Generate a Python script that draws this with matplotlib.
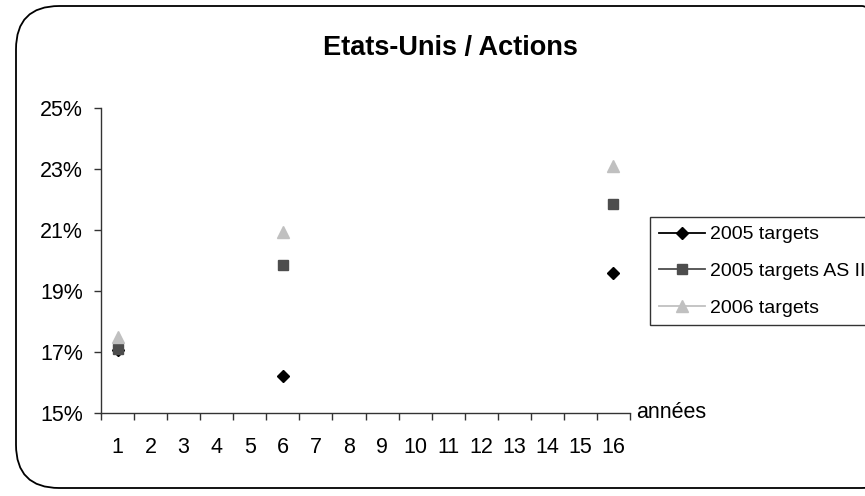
import numpy as np
import matplotlib
matplotlib.use("Agg")
import matplotlib.pyplot as plt
from matplotlib.patches import FancyBboxPatch

plt.rcParams['font.family'] = ['Liberation Sans', 'DejaVu Sans']

categories = [str(i) for i in range(1, 17)]
nan = np.nan
targets_2005 = [17.05, nan, nan, nan, nan, 16.2, nan, nan, nan, nan, nan, nan, nan, nan, nan, 19.6]
targets_2005_as2 = [17.1, nan, nan, nan, nan, 19.85, nan, nan, nan, nan, nan, nan, nan, nan, nan, 21.85]
targets_2006 = [17.5, nan, nan, nan, nan, 20.93, nan, nan, nan, nan, nan, nan, nan, nan, nan, 23.1]
series_names = ["2005 targets", "2005 targets AS II", "2006 targets"]
y_ticks = [15, 17, 19, 21, 23, 25]
title = "Etats-Unis / Actions"
x_axis_label = "années"

W, H = 865, 496
fig = plt.figure(figsize=(W / 100, H / 100), dpi=100)

# outer rounded frame (extends past right edge)
frame = FancyBboxPatch((16 / W, 8 / H), (W + 40 - 16) / W, (490 - 8) / H,
                       boxstyle="round,pad=0,rounding_size=0.05",
                       transform=fig.transFigure, fill=False, ec='black', lw=1.3,
                       mutation_aspect=W / H)
fig.add_artist(frame)

ax = fig.add_axes([101 / W, 1 - 413 / H, (630 - 101) / W, (413 - 108) / H])
x = np.arange(1, len(categories) + 1)

fs = 15.5
ax.plot(x, targets_2005, color='black', marker='D', markersize=6.5, lw=1.3,
        label=series_names[0])
ax.plot(x, targets_2005_as2, color='#4d4d4d', marker='s', markersize=7.5, lw=1.3,
        label=series_names[1])
ax.plot(x, targets_2006, color='#c0c0c0', marker='^', markersize=9, lw=1.3,
        label=series_names[2])

ax.set_xlim(0.5, len(categories) + 0.5)
ax.set_ylim(15, 25)
ax.set_yticks(y_ticks)
ax.set_yticklabels([f"{v}%" for v in y_ticks], fontsize=fs)
ax.set_xticks(x)
ax.set_xticklabels(categories, fontsize=fs)
ax.set_xticks(np.arange(0.5, len(categories) + 1), minor=True)
ax.tick_params(axis='x', which='major', length=0, pad=17)
ax.tick_params(axis='x', which='minor', length=5, width=1, direction='out', color='#333333')
ax.tick_params(axis='y', length=5, width=1, direction='out', pad=8, color='#333333')

for s in ['top', 'right']:
    ax.spines[s].set_visible(False)
for s in ['left', 'bottom']:
    ax.spines[s].set_color('#333333')
    ax.spines[s].set_linewidth(1)

ax.text(1.012, 0.0, x_axis_label, transform=ax.transAxes, fontsize=fs,
        ha='left', va='center')

fig.text(450 / W, 1 - 48 / H, title, fontsize=19.5, fontweight='bold',
         ha='center', va='center')

leg = ax.legend(loc='upper left', bbox_to_anchor=(650 / W, 1 - 217 / H),
                bbox_transform=fig.transFigure, prop={'size': 14}, frameon=True,
                fancybox=False, edgecolor='black', handlelength=2.4,
                handletextpad=0.25, borderpad=0.45, labelspacing=0.98,
                borderaxespad=0)
leg.get_frame().set_linewidth(1)

fig.savefig("out.png", dpi=100)
